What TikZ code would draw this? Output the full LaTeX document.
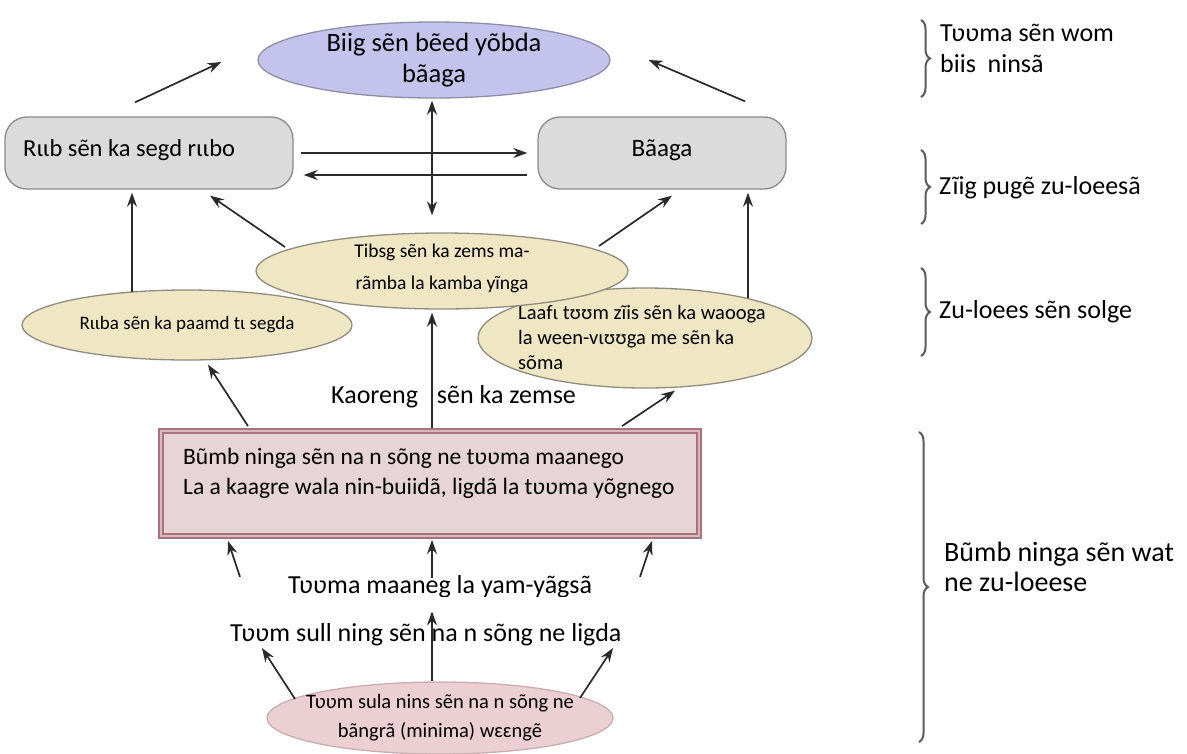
\documentclass[tikz,border=0pt]{standalone}
\usepackage{fontspec}
\setmainfont{Carlito}
\usetikzlibrary{arrows.meta,decorations.pathreplacing,shapes.geometric,calc}
\definecolor{lav}{HTML}{C4C3EC}
\definecolor{lavd}{HTML}{8E8EA6}
\definecolor{rectf}{HTML}{DBDBDB}
\definecolor{rectd}{HTML}{8A8A8A}
\definecolor{beige}{HTML}{EFE6C3}
\definecolor{beiged}{HTML}{8F8C7E}
\definecolor{boxf}{HTML}{E6D4D6}
\definecolor{boxd}{HTML}{A8737C}
\definecolor{boxm}{HTML}{D7B9BD}
\definecolor{pinkf}{HTML}{ECCFD2}
\definecolor{pinkd}{HTML}{C9AEB1}
\definecolor{arrc}{HTML}{2A2A2A}
\definecolor{bracec}{HTML}{5A5A5A}
\begin{document}
\begin{tikzpicture}[x=1pt,y=-1pt,
  ell/.style={ellipse, inner sep=0pt, line width=1.3pt},
  rbox/.style={rectangle, rounded corners=22pt, inner sep=0pt, fill=rectf, draw=rectd, line width=1.3pt},
  arr/.style={draw=arrc, line width=1.7pt, -{Stealth[length=14pt,width=10pt]}},
  darr/.style={draw=arrc, line width=1.7pt, {Stealth[length=14pt,width=10pt]}-{Stealth[length=14pt,width=10pt]}},
  big/.style={inner sep=0pt, font=\fontsize{26}{30}\selectfont},
  brc/.style={draw=bracec, line width=2pt, decorate, decoration={brace, amplitude=9pt}}
]
\useasboundingbox (0,0) rectangle (1187,753);
\fill[white] (0,0) rectangle (1187,753);
\begin{scope}
\clip (0,0) rectangle (1187,753);

% shapes
\node[ell, fill=lav, draw=lavd, minimum width=352pt, minimum height=76pt] (top) at (434,60) {};
\node[inner sep=0pt, align=center, font=\fontsize{26.5}{31}\selectfont] (topt) at (top.center) {Biig sẽn bẽed yõbda\\bãaga};

\node[rbox, minimum width=288pt, minimum height=72pt] (lrect) at (149,153) {};
\node[inner sep=0pt, anchor=west, font=\fontsize{24.5}{30}\selectfont] (lrectt) at (23,150) {Rɩɩb sẽn ka segd rɩɩbo};
\node[rbox, minimum width=248pt, minimum height=72pt] (rrect) at (662,153) {};
\node[inner sep=0pt, font=\fontsize{25}{30}\selectfont] (rrectt) at (662,150) {Bãaga};

\node[ell, fill=beige, draw=beiged, minimum width=330pt, minimum height=70pt] (lell) at (187,325) {};
\node[inner sep=0pt, font=\fontsize{19}{30}\selectfont] (lellt) at (lell.center) {Rɩɩba sẽn ka paamd tɩ segda};

\node[ell, fill=beige, draw=beiged, minimum width=334pt, minimum height=100pt] (rell) at (645,338) {};
\begin{scope}
\clip (470,280) rectangle (820,370);
\node[inner sep=0pt, anchor=west, align=left, font=\fontsize{20.5}{25}\selectfont] (rellt) at (518,337) {Laafɩ tʊʊm zĩis sẽn ka waooga\\la ween-vɩʊʊga me sẽn ka\\sõma};
\end{scope}

\node[ell, fill=beige, draw=beiged, minimum width=372pt, minimum height=76pt] (tib) at (442,271) {};
\node[inner sep=0pt, align=center, font=\fontsize{19.5}{32}\selectfont] (tibt) at (442,268) {Tibsg sẽn ka zems ma-\\rãmba la kamba yĩnga};

\node[rectangle, fill=boxf, draw=boxd, line width=1.8pt, double=boxm, double distance=2.4pt, minimum width=538pt, minimum height=105pt, inner sep=0pt] (box) at (430,483.5) {};
\node[inner sep=0pt, anchor=west, align=left, font=\fontsize{23.5}{30}\selectfont] (boxt) at (183,473) {Bũmb ninga sẽn na n sõng ne tʋʋma maanego\\La a kaagre wala nin-buiidã, ligdã la tʋʋma yõgnego};

\node[ell, fill=pinkf, draw=pinkd, minimum width=346pt, minimum height=72pt] (bell) at (440,718) {};
\node[inner sep=0pt, align=center, font=\fontsize{20.5}{29}\selectfont] (bellt) at (bell.center) {Tʋʋm sula nins sẽn na n sõng ne\\bãngrã (minima) wɛɛngẽ};

% labels
\node[big, anchor=west] (kao) at (331,397) {Kaoreng\hspace{19pt}sẽn ka zemse};
\begin{scope}
\clip (200,560) rectangle (700,596);
\node[big, anchor=base] (maan) at (440,593) {Tʋʋma maaneg la yam-yãgsã};
\end{scope}
\node[big, anchor=base west] (sull) at (230,641) {Tʋʋm sull ning sẽn na n sõng ne ligda};

% connectors
\draw[arr] ([shift={(-14,-14)}]lrect.north) -- ([shift={(-36,2)}]top.west);
\draw[arr] ([shift={(83,-15)}]rrect.north) -- ([shift={(38,0)}]top.east);
\draw[arr] ([shift={(7,0)}]lrect.east) -- ([shift={(-10,0)}]rrect.west);
\draw[arr] ([shift={(-10,22)}]rrect.west) -- ([shift={(10,22)}]lrect.east);
\draw[darr] ([shift={(-2,2)}]top.south) -- ([shift={(-10,-17)}]tib.north);
\draw[arr] ([shift={(-55,-33)}]lell.center) -- ([shift={(-17,3)}]lrect.south);
\draw[arr] ([shift={(-157,-24)}]tib.center) -- ([shift={(61,6)}]lrect.south);
\draw[arr] ([shift={(157,-25)}]tib.center) -- ([shift={(10,6)}]rrect.south);
\draw[arr] ([shift={(103,-40)}]rell.center) -- ([shift={(86,3)}]rrect.south);
\draw[arr] ([shift={(-182,-4)}]box.north) -- ([shift={(21,4)}]lell.south);
\draw[arr] ([shift={(2,-2)}]box.north) -- ([shift={(-10,3)}]tib.south);
\draw[arr] ([shift={(192,-4)}]box.north) -- ([shift={(30,2)}]rell.south);
\draw[arr] ([shift={(-190,40)}]box.south) -- ([shift={(-202,4)}]box.south);
\draw[arr] ([shift={(2,41)}]box.south) -- ([shift={(2,3)}]box.south);
\draw[arr] ([shift={(210,40)}]box.south) -- ([shift={(222,4)}]box.south);
\draw[arr] ([shift={(-145,-19)}]bell.center) -- ([shift={(-178,-70)}]bell.center);
\draw[arr] ([shift={(-8,0)}]bell.north) -- ([shift={(-8,-70)}]bell.north);
\draw[arr] ([shift={(140,-20)}]bell.center) -- ([shift={(173,-70)}]bell.center);

% braces and side labels
\draw[brc] (921,20) -- (921,97);
\node[big, anchor=west, align=left, font=\fontsize{26}{31}\selectfont] (r1) at (940,48) {Tʋʋma sẽn wom\\biis\ \ ninsã};
\draw[brc] (921,150) -- (921,224);
\node[big, anchor=west] (r2) at (939,188) {Zĩig pugẽ zu-loeesã};
\draw[brc] (921,268) -- (921,356);
\node[big, anchor=west] (r3) at (939,312) {Zu-loees sẽn solge};
\draw[brc] (919,432) -- (919,742);
\node[big, anchor=west, align=left, font=\fontsize{28}{30}\selectfont] (r4) at (944,567) {Bũmb ninga sẽn wat\\ne zu-loeese};
\end{scope}
\end{tikzpicture}
\end{document}
